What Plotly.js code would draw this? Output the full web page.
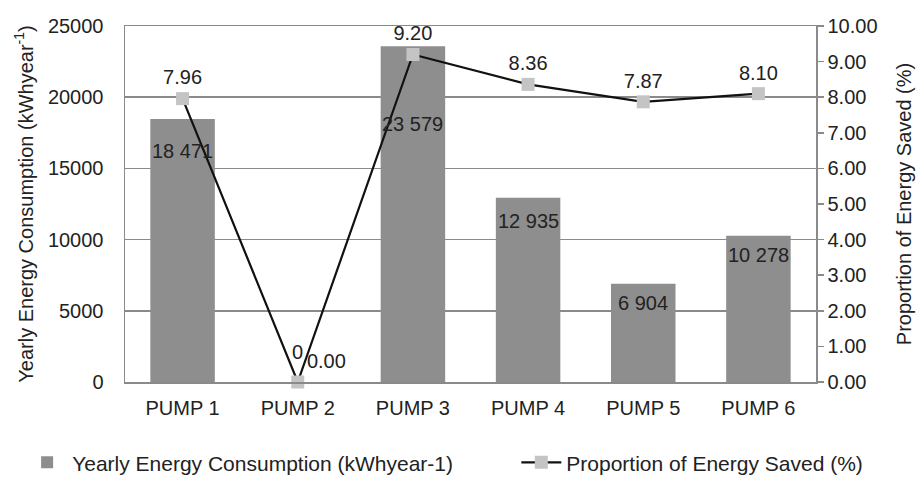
<!DOCTYPE html>
<html>
<head>
<meta charset="utf-8">
<script src="https://cdn.plot.ly/plotly-3.0.1.min.js"></script>
<style>
html,body{margin:0;padding:0;background:#fff;}
#chart{width:922px;height:477px;}
</style>
</head>
<body>
<div id="chart"></div>
<script>
// ---- data ----
var pumps = ['PUMP 1', 'PUMP 2', 'PUMP 3', 'PUMP 4', 'PUMP 5', 'PUMP 6'];
var consumption = [18471, 0, 23579, 12935, 6904, 10278];
var savedPct = [7.96, 0.00, 9.20, 8.36, 7.87, 8.10];
var seriesNames = ['Yearly Energy Consumption (kWhyear-1)', 'Proportion of Energy Saved (%)'];

// ---- label placement (pixels, layout only) ----
var barLabelShift = [-32, 30, -78, -23, -19, -19];
var lineLabelPos = ['top center', 'top right', 'top center', 'top center', 'top center', 'top center'];

function spaced(v) {
  return String(v).replace(/\B(?=(\d{3})+(?!\d))/g, ' ');
}

var FONT = 'Liberation Sans, Arial, sans-serif';
var TXT = '#222222';
var GRID = '#8a8a8a';
var FS = 20;
var LFS = 21;

var barTrace = {
  type: 'bar',
  name: seriesNames[0],
  legend: 'legend',
  x: pumps,
  y: consumption,
  marker: {color: '#8e8e8e', line: {width: 0}},
  hoverinfo: 'x+y'
};

var lineTrace = {
  type: 'scatter',
  mode: 'lines+markers+text',
  name: seriesNames[1],
  legend: 'legend2',
  x: pumps,
  y: savedPct,
  yaxis: 'y2',
  line: {color: '#111111', width: 2.2},
  marker: {symbol: 'square', size: 13, color: '#c4c4c4', line: {width: 0}},
  text: savedPct.map(function (v) { return v.toFixed(2); }),
  textposition: lineLabelPos,
  textfont: {family: FONT, size: FS, color: TXT},
  cliponaxis: false
};

var annotations = pumps.map(function (p, i) {
  return {
    x: p, y: consumption[i], xref: 'x', yref: 'y',
    text: spaced(consumption[i]),
    showarrow: false,
    yanchor: 'middle',
    yshift: barLabelShift[i],
    font: {family: FONT, size: FS, color: TXT}
  };
});

function legendBox(xPos) {
  return {
    orientation: 'h',
    xref: 'container', yref: 'container',
    x: xPos, xanchor: 'left',
    y: 0.03, yanchor: 'middle',
    font: {family: FONT, size: LFS, color: TXT},
    itemwidth: 40,
    bgcolor: 'rgba(0,0,0,0)'
  };
}

var layout = {
  width: 922, height: 477,
  margin: {l: 125, r: 106, t: 26, b: 95},
  paper_bgcolor: '#ffffff',
  plot_bgcolor: '#ffffff',
  font: {family: FONT, size: FS, color: TXT},
  bargap: 0.44,
  showlegend: true,
  legend: legendBox(0.024),
  legend2: legendBox(0.56),
  xaxis: {
    type: 'category',
    showgrid: false,
    showline: true, linecolor: GRID, linewidth: 1.5,
    mirror: true,
    ticks: 'outside', ticklen: 7, tickcolor: 'rgba(0,0,0,0)',
    tickfont: {family: FONT, size: FS, color: TXT},
    zeroline: false
  },
  yaxis: {
    range: [0, 25000],
    dtick: 5000,
    tickformat: 'd',
    showgrid: true, gridcolor: GRID, gridwidth: 1.5,
    showline: true, linecolor: GRID, linewidth: 1.5,
    zeroline: false,
    ticks: 'outside', ticklen: 16, tickcolor: 'rgba(0,0,0,0)',
    tickfont: {family: FONT, size: FS, color: TXT},
    title: {
      text: seriesNames[0].replace('-1', '<sup>-1</sup>'),
      font: {family: FONT, size: FS, color: TXT},
      standoff: 9
    }
  },
  yaxis2: {
    overlaying: 'y',
    side: 'right',
    range: [0, 10],
    dtick: 1,
    tickformat: '.2f',
    showgrid: false,
    zeroline: false,
    showline: true, linecolor: GRID, linewidth: 1.5,
    ticks: 'outside', ticklen: 6, tickcolor: GRID, tickwidth: 1.5,
    tickfont: {family: FONT, size: FS, color: TXT},
    title: {
      text: seriesNames[1],
      font: {family: FONT, size: FS, color: TXT},
      standoff: 20
    }
  },
  annotations: annotations
};

Plotly.newPlot('chart', [barTrace, lineTrace], layout, {displayModeBar: false, staticPlot: true});
</script>
</body>
</html>
